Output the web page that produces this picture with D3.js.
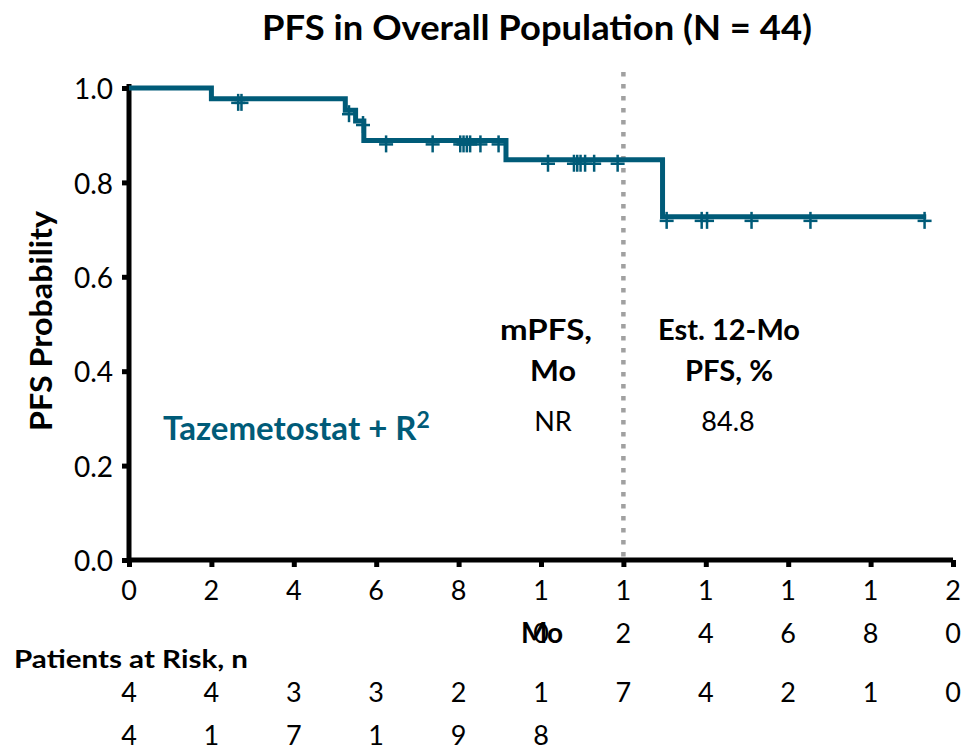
<!DOCTYPE html>
<html>
<head>
<meta charset="utf-8">
<script src="https://cdn.jsdelivr.net/npm/d3@7"></script>
<style>
  html, body { margin: 0; padding: 0; background: #ffffff; }
  svg { display: block; font-family: Lato, "Open Sans", sans-serif; }
</style>
</head>
<body>
<svg id="chart" width="963" height="751"></svg>
<script>
// Kaplan-Meier step curve: time (months) at which each level starts
const stepTimes = [0, 2.0, 5.25, 5.5, 5.7, 9.15, 12.95];
const stepSurv  = [1.0, 0.977, 0.953, 0.930, 0.889, 0.848, 0.727];
const followUpEnd = 19.35;

// Censored observations (months)
const censorTimes = [2.65, 2.73, 5.34, 5.68, 6.24, 7.37, 8.04, 8.12, 8.2, 8.28, 8.53, 8.97,
                     10.17, 10.8, 10.88, 10.96, 11.07, 11.29, 11.86,
                     13.05, 13.9, 14.03, 15.11, 16.54, 19.31];

// Axis ticks
const xTickLabels = ["0", "2", "4", "6", "8", "10", "12", "14", "16", "18", "20"];
const yTickLabels = ["0.0", "0.2", "0.4", "0.6", "0.8", "1.0"];

// Number at risk under each x tick
const atRisk = ["44", "41", "37", "31", "29", "18", "7", "4", "2", "1", "0"];

const teal = "#005b78";
const svg = d3.select("#chart");

const x = d3.scaleLinear().domain([0, 20]).range([129, 953]);
const y = d3.scaleLinear().domain([0, 1]).range([560, 88]);

// Title
svg.append("text")
  .attr("x", 537).attr("y", 40)
  .attr("text-anchor", "middle")
  .attr("font-size", 35).attr("font-weight", 700)
  .attr("fill", "#000")
  .attr("textLength", 550).attr("lengthAdjust", "spacingAndGlyphs")
  .text("PFS in Overall Population (N = 44)");

// Y axis title
svg.append("text")
  .attr("transform", "translate(52,321) rotate(-90)")
  .attr("text-anchor", "middle")
  .attr("font-size", 30).attr("font-weight", 700)
  .attr("textLength", 220).attr("lengthAdjust", "spacingAndGlyphs")
  .text("PFS Probability");

// Reference line at 12 months
svg.append("line")
  .attr("x1", x(12)).attr("x2", x(12))
  .attr("y1", 72).attr("y2", 560)
  .attr("stroke", "#a0a0a0").attr("stroke-width", 4.5)
  .attr("stroke-dasharray", "4.5,7.5");

// Axes
const yAxis = svg.append("g").attr("transform", `translate(${x(0)},0)`)
  .call(d3.axisLeft(y).tickValues(yTickLabels.map(Number)).tickSize(7).tickFormat(d3.format(".1f")));
yAxis.select(".domain").attr("stroke", "#000").attr("stroke-width", 5)
  .attr("d", `M0,${y(0)}V${y(1) - 4}`);
yAxis.selectAll(".tick line").attr("stroke", "#000").attr("stroke-width", 5);
yAxis.selectAll(".tick text")
  .attr("font-size", 28).attr("font-family", "Lato, sans-serif").attr("fill", "#000")
  .attr("x", -16).attr("dy", "0.38em");

const xAxis = svg.append("g").attr("transform", `translate(0,${y(0)})`)
  .call(d3.axisBottom(x).tickValues(xTickLabels.map(Number)).tickSize(7).tickFormat(""));
xAxis.select(".domain").attr("stroke", "#000").attr("stroke-width", 5)
  .attr("d", `M${x(0)},0H${x(20)}`);
xAxis.selectAll(".tick line").attr("stroke", "#000").attr("stroke-width", 5);

// X tick labels, wrapped one digit per line
xTickLabels.forEach(lbl => {
  const t = svg.append("text")
    .attr("x", x(+lbl)).attr("y", 600)
    .attr("text-anchor", "middle")
    .attr("font-size", 27).attr("fill", "#000");
  lbl.split("").forEach((ch, i) => {
    t.append("tspan").attr("x", x(+lbl)).attr("dy", i === 0 ? 0 : 43).text(ch);
  });
});

// X axis title
svg.append("text")
  .attr("x", x(10) + 1).attr("y", 643)
  .attr("text-anchor", "middle")
  .attr("font-size", 28).attr("font-weight", 700)
  .text("Mo");

// Patients at risk
svg.append("text")
  .attr("x", 14).attr("y", 668)
  .attr("font-size", 25).attr("font-weight", 700)
  .attr("textLength", 234).attr("lengthAdjust", "spacingAndGlyphs")
  .text("Patients at Risk, n");

atRisk.forEach((n, i) => {
  const cx = x(+xTickLabels[i]);
  const t = svg.append("text")
    .attr("x", cx).attr("y", 702)
    .attr("text-anchor", "middle")
    .attr("font-size", 27).attr("fill", "#000");
  n.split("").forEach((ch, j) => {
    t.append("tspan").attr("x", cx).attr("dy", j === 0 ? 0 : 43).text(ch);
  });
});

// Survival curve
const curvePts = stepTimes.map((t, i) => [t, stepSurv[i]]);
curvePts.push([followUpEnd, stepSurv[stepSurv.length - 1]]);
const line = d3.line().x(d => x(d[0])).y(d => y(d[1])).curve(d3.curveStepAfter);
svg.append("path")
  .datum(curvePts)
  .attr("d", line)
  .attr("fill", "none")
  .attr("stroke", teal).attr("stroke-width", 5);

// Censor marks
const survAt = t => {
  let s = stepSurv[0];
  stepTimes.forEach((st, i) => { if (t >= st) s = stepSurv[i]; });
  return s;
};
const marks = svg.append("g").attr("stroke", teal).attr("stroke-width", 2.5);
censorTimes.forEach(t => {
  const cx = x(t), cy = y(survAt(t)) + 4;
  marks.append("line").attr("x1", cx).attr("x2", cx).attr("y1", cy - 9).attr("y2", cy + 8);
  marks.append("line").attr("x1", cx - 7).attr("x2", cx + 7).attr("y1", cy).attr("y2", cy);
});

// Summary table
const table = svg.append("g").attr("text-anchor", "middle").attr("fill", "#000");
const head = (tx, ty, s, w) => table.append("text").attr("x", tx).attr("y", ty)
  .attr("font-size", 28).attr("font-weight", 700)
  .attr("textLength", w).attr("lengthAdjust", "spacingAndGlyphs").text(s);
head(546, 340, "mPFS,", 92);
head(553, 381, "Mo", 46);
head(729, 340, "Est. 12-Mo", 142);
head(729, 381, "PFS, %", 88);
table.append("text").attr("x", 553).attr("y", 431).attr("font-size", 27).text("NR");
table.append("text").attr("x", 728).attr("y", 431).attr("font-size", 27).text("84.8");

const label = svg.append("text")
  .attr("x", 163).attr("y", 440)
  .attr("font-size", 33).attr("font-weight", 700)
  .attr("fill", teal);
label.append("tspan").text("Tazemetostat + R");
label.append("tspan").attr("font-size", 23).attr("dy", -12).text("2");
</script>
</body>
</html>
